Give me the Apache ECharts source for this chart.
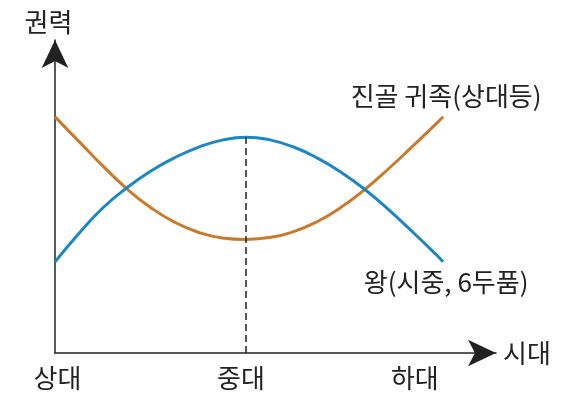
<!DOCTYPE html>
<html>
<head>
<meta charset="utf-8">
<script src="https://cdn.jsdelivr.net/npm/echarts@6/dist/echarts.min.js"></script>
<style>
  html, body { margin: 0; padding: 0; background: #fff; }
  #chart { width: 575px; height: 398px; }
</style>
</head>
<body>
<div id="chart"></div>
<script>
// time runs 상대 = 0, 중대 = 100; power on a 0..100 scale
var timeX  = [0, 12.5, 25, 37.5, 50, 62.5, 75, 87.5, 100, 112.5, 125, 137.5, 150, 162.5, 175, 187.5, 200, 203.3];
var nobleY = [79.0, 70.8, 62.6, 55.0, 48.7, 43.8, 40.4, 38.5, 38.0, 38.6, 40.6, 44.0, 48.8, 54.8, 61.8, 69.3, 76.9, 79.0];
var kingY  = [30.5, 40.0, 48.5, 55.2, 60.8, 65.3, 68.8, 71.2, 72.2, 71.3, 68.9, 65.2, 60.4, 54.6, 47.8, 40.4, 32.7, 30.5];
var eraNames = ['상대', '중대', '하대'];
var eraX = [1.3, 97.4, 188.5];
var nobleName = '진골 귀족(상대등)';
var kingName = '왕(시중, 6두품)';

var font = '"Noto Sans CJK KR", "Noto Sans", sans-serif';
var ink = '#222';

function pairs(xs, ys) {
  return xs.map(function (x, i) { return [x, ys[i]]; });
}

function endTag(xs, ys, name, pos, dist) {
  var n = xs.length - 1;
  return {
    silent: true,
    data: [{
      coord: [xs[n], ys[n]], symbol: 'circle', symbolSize: 0,
      label: {
        show: true, position: pos, distance: dist, offset: [3, 0],
        formatter: name, fontSize: 26, color: ink, fontFamily: font
      }
    }]
  };
}

var chart = echarts.init(document.getElementById('chart'));
chart.setOption({
  animation: false,
  grid: { left: 55, right: 79, top: 40, bottom: 45 },
  xAxis: {
    type: 'value', min: 0, max: 231,
    name: '시대', nameLocation: 'end', nameGap: 7,
    nameTextStyle: { fontSize: 26, color: ink, fontFamily: font },
    axisLine: { lineStyle: { color: ink, width: 1.5 }, symbol: ['none', 'arrow'], symbolSize: [20, 28] },
    axisTick: { show: false },
    splitLine: { show: false },
    axisLabel: {
      customValues: eraX, margin: 12,
      fontSize: 26, color: ink, fontFamily: font,
      formatter: function (v) { return eraNames[eraX.indexOf(v)] || ''; }
    }
  },
  yAxis: {
    type: 'value', min: 0, max: 104.7,
    name: '권력', nameLocation: 'end', nameGap: 5,
    nameTextStyle: { fontSize: 26, color: ink, fontFamily: font, align: 'center', padding: [0, 13, 0, 0] },
    axisLine: { lineStyle: { color: ink, width: 1.5 }, symbol: ['none', 'arrow'], symbolSize: [20, 28] },
    axisTick: { show: false },
    axisLabel: { show: false },
    splitLine: { show: false }
  },
  series: [
    {
      name: nobleName, type: 'line', smooth: 0.5, showSymbol: false, symbol: 'none',
      lineStyle: { color: '#CB7A2C', width: 3 },
      data: pairs(timeX, nobleY),
      markPoint: endTag(timeX, nobleY, nobleName, 'top', 8)
    },
    {
      name: kingName, type: 'line', smooth: 0.5, showSymbol: false, symbol: 'none',
      lineStyle: { color: '#1C87C6', width: 3 },
      data: pairs(timeX, kingY),
      markPoint: endTag(timeX, kingY, kingName, 'bottom', 7),
      markLine: {
        silent: true, symbol: 'none', label: { show: false },
        lineStyle: { color: ink, type: [7, 4], width: 1.5 },
        data: [[{ coord: [100, 0] }, { coord: [100, 72.2] }]]
      }
    }
  ]
});
</script>
</body>
</html>
